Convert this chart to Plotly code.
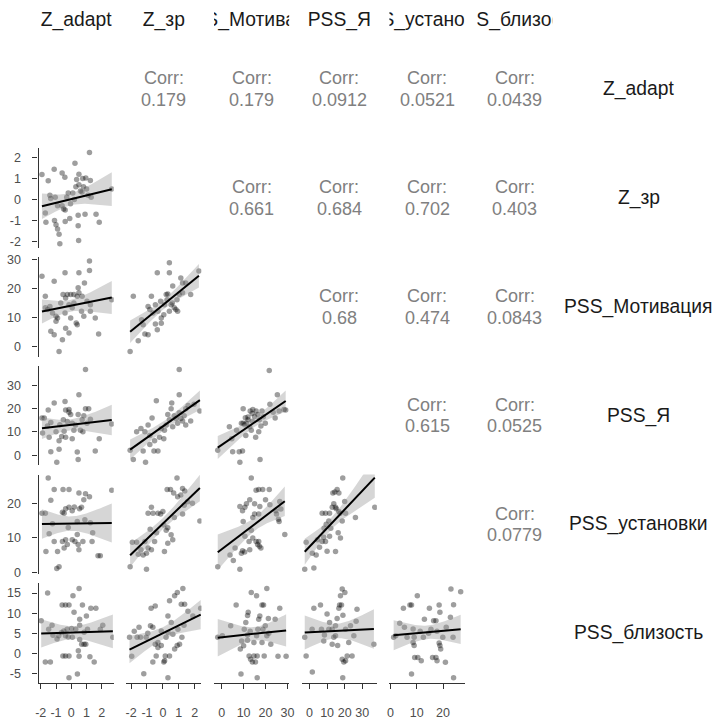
import numpy as np
import plotly.graph_objects as go

W, H = 719, 720

var_names = ["Z_adapt", "Z_зр", "PSS_Мотивация", "PSS_Я", "PSS_установки", "PSS_близость"]
# column headers as they appear (clipped to the panel width) and their horizontal shift in px
col_headers = ["Z_adapt", "Z_зр", "S_Мотива", "PSS_Я", "S_устано", "S_близос"]
col_header_shift = [0, 0, -1, 0, -4, 4]
var_ranges = [[-2.14, 2.78], [-2.3, 2.43], [-3.5, 30.8], [-4.4, 38.3], [-0.4, 28.2], [-7.3, 17.4]]
var_ticks = [[-2, -1, 0, 1, 2], [-2, -1, 0, 1, 2], [0, 10, 20, 30], [0, 10, 20, 30], [0, 10, 20], [-5, 0, 5, 10, 15]]

# upper-triangle correlations
corr_row1 = ["0.179", "0.179", "0.0912", "0.0521", "0.0439"]
corr_row2 = ["0.661", "0.684", "0.702", "0.403"]
corr_row3 = ["0.68", "0.474", "0.0843"]
corr_row4 = ["0.615", "0.0525"]
corr_row5 = ["0.0779"]

# lower-triangle scatter data: (x = column variable, y = row variable)
p21 = [(-1.92, 1.18), (-1.51, 0.89), (-1.12, 1.43), (-0.6, 1.25), (-0.42, 1.05), (0.24, 1.72), (1.19, 2.23),
       (0.5, 1.2), (0.75, 1.0), (0.95, 1.02), (1.25, 0.9), (-1.4, 0.2), (-1.35, 0.05), (-1.7, -0.65),
       (-1.66, -1.08), (-1.0, -1.2), (-1.1, -1.0), (-0.9, -1.4), (-0.8, -1.65), (-0.75, -2.1), (-0.4, -1.05),
       (-0.1, -0.9), (0.45, -0.75), (0.9, -0.7), (0.45, -1.25), (0.48, -1.95), (1.62, -0.7), (1.83, -1.08),
       (2.65, 0.5), (-0.6, -0.3), (-0.5, -0.45), (-0.4, -0.5), (-0.3, 0.1), (-0.2, 0.3), (0.1, 0.3),
       (0.3, 0.6), (0.5, 0.7), (0.6, 0.4), (0.8, 0.6), (1.0, 0.5), (1.1, 0.2), (0.2, 0.0), (-0.9, -0.3),
       (-1.05, 0.1), (0.35, 0.95), (-0.05, -0.2), (0.7, 0.35), (1.3, 0.1)]
p31 = [(-1.92, 24.2), (-1.7, 17.3), (-1.12, 22.5), (-0.41, 25.4), (0.5, 25.4), (1.19, 29.4), (1.19, 26.2),
       (0.86, 21.9), (-1.7, 13.3), (-1.55, 12.7), (-1.4, 13.8), (-1.34, 5.2), (-1.12, 4.0), (-0.58, 2.3),
       (-0.8, -1.7), (-0.9, 9.8), (-1.0, 8.7), (-0.54, 17.9), (-0.37, 16.7), (-0.26, 17.9), (-0.04, 17.9),
       (0.17, 17.9), (0.39, 17.3), (0.5, 18.5), (0.71, 17.3), (0.45, 20.2), (-0.15, 14.4), (0.06, 13.3),
       (-0.41, 11.5), (-0.37, 6.3), (-0.04, 9.8), (0.32, 8.1), (0.39, 7.5), (0.82, 10.4), (1.25, 12.1),
       (1.57, 9.8), (1.79, 4.3), (2.65, 16.1), (0.67, 12.1), (1.25, 14.4), (1.03, 15.6), (0.17, 15.0),
       (-0.69, 15.0), (-1.23, 11.5), (-1.0, 10.4), (-0.15, 4.6)]
p32 = [(-2.06, -1.7), (-1.86, 17.3), (-1.55, 2.0), (-1.24, 7.5), (-1.13, 4.3), (-0.93, 4.0), (-0.82, 12.7),
       (-0.72, 17.3), (-0.93, 13.8), (-1.34, 9.2), (-0.62, 11.5), (-0.47, 7.7), (-0.35, 5.8), (-0.35, 25.4),
       (-0.1, 9.8), (0.06, 10.9), (0.21, 17.9), (0.31, 18.1), (0.41, 28.8), (0.41, 25.4), (0.27, 16.1),
       (0.52, 14.4), (0.72, 13.3), (0.82, 12.7), (0.93, 12.1), (0.62, 20.8), (1.13, 23.6), (1.24, 21.9),
       (1.44, 21.9), (1.75, 17.9), (2.27, 26.0), (0.89, 16.1), (1.03, 17.9), (1.24, 18.5), (0.41, 12.1),
       (0.1, 14.4), (-0.14, 15.6), (-0.31, 12.1), (-0.47, 14.4), (-0.1, 8.0), (0.6, 15.0)]
p41 = [(0.93, 36.7), (-1.92, 15.9), (-1.77, 15.9), (-1.51, 19.3), (-1.34, 14.0), (-1.45, 7.7), (-1.34, 1.5),
       (-0.95, -3.0), (-1.12, 22.3), (-0.8, 6.2), (-0.63, 8.0), (-0.47, 10.2), (-0.41, 23.0), (-0.37, 7.7),
       (-0.37, 19.3), (-0.15, 19.6), (-0.15, 18.4), (-0.04, 17.4), (0.06, 7.0), (0.39, 1.3), (0.45, -1.9),
       (0.5, 25.9), (0.45, 17.4), (0.28, 12.9), (0.6, 10.7), (0.76, 10.0), (0.82, 16.9), (0.93, 19.9),
       (1.14, 19.9), (1.25, 15.4), (1.57, 1.8), (1.83, 7.0), (2.65, 13.4), (-1.88, 9.5), (-1.56, 12.5),
       (-1.0, 10.0), (-0.75, 13.0), (-0.26, 14.4), (0.06, 13.7), (-0.52, 15.2), (0.17, 10.7), (0.71, 15.2),
       (1.03, 13.7), (-0.8, 2.5)]
p42 = [(1.03, 36.7), (-2.06, 2.1), (-1.86, -1.9), (-1.09, -3.0), (-1.24, 1.8), (-1.65, 10.0), (-1.38, 11.4),
       (-1.13, 10.0), (-0.93, 12.9), (-0.68, 15.9), (-0.41, 23.3), (-0.56, 1.8), (-0.31, 1.8), (0.06, 7.0),
       (-0.1, 11.4), (0.21, 12.9), (0.41, 15.2), (0.52, 19.9), (0.72, 16.9), (0.82, 15.7), (1.03, 25.9),
       (1.03, 18.2), (1.13, 15.7), (1.24, 14.6), (1.34, 16.9), (1.44, 19.9), (1.44, 12.9), (1.59, 21.3),
       (1.75, 14.6), (1.96, 21.8), (2.33, 18.9), (0.31, 17.4), (0.56, 22.3), (-0.21, 7.7), (-0.52, 6.2),
       (-0.82, 8.4), (0.1, 10.7), (0.62, 12.2), (0.93, 13.7), (-0.82, 4.6)]
p43 = [(-1.8, 2.1), (3.5, 12.2), (4.6, 7.0), (5.0, 1.5), (8.0, 1.5), (9.5, 1.8), (8.3, -3.0), (9.8, 19.9),
       (9.0, 13.7), (9.8, 13.7), (10.5, 13.0), (11.3, 13.7), (12.8, 12.2), (12.0, 15.2), (13.0, 18.9),
       (14.2, 19.6), (13.9, 17.8), (15.0, 16.6), (15.7, 18.9), (16.5, 17.4), (17.2, 15.2), (16.9, 10.0),
       (15.5, 7.7), (17.5, -1.9), (18.4, 18.9), (17.9, 12.5), (19.9, 13.7), (21.7, 36.3), (22.0, 21.8),
       (23.5, 18.4), (24.4, 15.9), (25.4, 25.9), (26.2, 18.9), (28.4, 19.6), (29.2, 19.3), (11.0, 8.4),
       (13.5, 10.7), (12.0, 16.3), (6.8, 10.7), (14.0, 14.5), (19.0, 16.5), (10.8, 16.0)]
p51 = [(-1.92, 17.1), (-1.7, 17.1), (-1.51, 27.2), (-1.34, 20.8), (-1.45, 11.2), (-1.12, 9.0), (-1.66, 6.1),
       (-0.9, 6.1), (-0.95, 1.2), (-0.8, 1.7), (-1.12, 23.9), (-0.54, 23.9), (-0.15, 23.9), (-0.58, 17.4),
       (-0.47, 17.1), (-0.37, 18.4), (-0.58, 9.0), (-0.37, 9.5), (-0.47, 7.1), (-0.26, 8.1), (-0.15, 18.8),
       (0.06, 17.8), (0.06, 9.5), (0.24, 9.0), (0.39, 11.0), (0.45, 8.1), (0.5, 6.6), (0.5, 22.9),
       (0.54, 18.4), (0.67, 18.8), (0.82, 21.0), (0.89, 15.2), (0.39, 14.7), (0.76, 9.0), (0.93, 22.7),
       (1.19, 21.8), (1.25, 14.4), (1.4, 11.5), (1.36, 9.0), (1.75, 4.9), (1.9, 4.9), (2.65, 23.7),
       (-1.23, 14.1), (-0.2, 13.0), (0.2, 18.9)]
p52 = [(-2.06, 1.7), (-1.92, 8.8), (-1.65, 8.8), (-1.03, 1.0), (-1.55, 5.3), (-1.38, 6.6), (-1.24, 5.1),
       (-1.03, 5.6), (-0.93, 7.1), (-0.72, 6.6), (-0.52, 9.0), (-1.13, 9.0), (-0.93, 17.1), (-0.72, 18.8),
       (-0.62, 17.1), (-0.31, 17.1), (-0.14, 16.9), (0.06, 13.7), (0.21, 12.2), (0.31, 12.9), (0.52, 10.9),
       (0.62, 9.5), (0.27, 23.9), (0.48, 23.9), (0.68, 22.9), (0.89, 27.2), (0.93, 21.8), (1.13, 22.3),
       (1.24, 24.2), (1.38, 23.5), (1.24, 16.9), (1.34, 19.4), (1.55, 20.4), (1.86, 20.0), (2.33, 14.9),
       (0.72, 15.9), (0.31, 8.5), (0.1, 6.1), (-0.4, 11.5), (-0.8, 12.5), (0.0, 17.6)]
p53 = [(-1.8, 1.7), (3.8, 5.1), (6.1, 7.1), (8.3, 1.0), (9.0, 5.6), (9.5, 6.3), (10.6, 10.5), (9.8, 14.7),
       (12.8, 6.6), (13.5, 12.2), (14.2, 10.0), (15.7, 9.0), (16.4, 8.1), (17.2, 7.6), (17.9, 7.1), (16.9, 9.0),
       (8.3, 19.0), (9.5, 17.8), (10.6, 18.8), (11.3, 19.8), (12.8, 21.0), (13.5, 27.2), (15.0, 19.8),
       (15.7, 23.7), (16.9, 23.9), (18.7, 23.9), (21.7, 23.9), (17.4, 19.0), (16.9, 16.9), (15.0, 16.9),
       (14.2, 15.9), (24.7, 17.8), (25.0, 16.9), (25.9, 15.4), (26.2, 14.7), (28.8, 11.0), (12.5, 9.0),
       (10.5, 6.0), (5.3, 3.5), (20.0, 21.0), (22.0, 19.5), (27.0, 18.3), (26.5, 20.5)]
p54 = [(-2.7, 1.0), (-1.9, 8.8), (2.5, 1.4), (1.6, 5.6), (3.8, 5.1), (5.7, 7.3), (7.2, 9.0), (8.1, 10.2),
       (9.1, 9.0), (10.0, 6.2), (11.4, 10.5), (9.5, 13.9), (11.0, 14.9), (7.2, 17.1), (9.1, 17.1), (11.4, 17.1),
       (12.9, 18.8), (14.8, 18.8), (13.8, 19.8), (15.2, 18.4), (16.7, 17.6), (13.3, 22.9), (14.4, 23.2),
       (15.7, 23.9), (16.7, 22.9), (18.9, 27.2), (17.4, 17.1), (18.6, 14.9), (20.5, 17.1), (16.3, 11.5),
       (17.6, 10.0), (14.8, 6.1), (26.1, 15.9), (37.1, 18.8), (12.1, 12.8), (8.3, 12.8), (4.5, 9.5),
       (20.0, 20.5)]
p61 = [(-1.97, 8.1), (-1.55, 15.0), (-1.7, -2.1), (-1.37, -2.1), (-1.48, 6.0), (-1.26, 7.0), (-1.2, 4.5),
       (-0.93, 3.6), (-0.82, 4.4), (-0.64, 5.2), (-0.6, 12.0), (-0.49, 5.6), (-0.38, 12.0), (-0.15, 12.0),
       (-0.55, -0.6), (-0.38, -0.6), (-0.15, -0.6), (-0.38, 4.4), (-0.27, 6.0), (-0.2, 4.1), (-0.15, -6.0),
       (0.11, 14.3), (0.18, 10.2), (0.07, 4.0), (0.51, 16.1), (0.55, 8.5), (0.55, 7.0), (0.4, -5.1),
       (0.46, 0.7), (0.51, -0.7), (0.55, 3.5), (0.73, 12.0), (0.68, 2.3), (0.84, 2.3), (0.95, 2.3),
       (0.99, 9.3), (0.84, 5.3), (1.06, 6.0), (1.22, -0.8), (1.5, -2.1), (1.61, 11.2), (1.28, 11.2),
       (1.9, 6.0), (2.72, 4.0), (2.06, 7.0), (0.29, 6.0), (0.02, 6.2)]
p62 = [(-2.1, 4.0), (-1.96, -0.7), (-1.62, 4.0), (-1.41, 4.0), (-1.2, -5.0), (-1.05, 4.0), (-0.95, 5.0),
       (-0.78, 6.9), (-0.63, 6.5), (-0.74, 11.2), (-0.48, 11.8), (-0.63, -2.1), (-0.42, -0.6), (-0.31, 2.7),
       (-0.1, 5.6), (0.06, -2.1), (0.11, -1.8), (0.15, -0.6), (0.42, -0.6), (0.32, -6.0), (0.32, 5.2),
       (0.32, 9.3), (0.42, 13.1), (0.53, 7.7), (0.74, 14.3), (0.91, 15.1), (1.26, 16.1), (1.16, 12.2),
       (1.37, 12.2), (1.05, 2.3), (0.95, 6.0), (1.33, 7.0), (1.58, 10.5), (1.89, 9.3), (2.38, 11.2),
       (-0.48, 2.3), (-0.31, 1.5), (0.63, 4.8), (0.74, 1.1), (-0.1, 2.0), (0.2, 4.0), (1.2, 4.0),
       (0.9, 2.0), (-1.5, 6.5), (-1.8, 5.5)]
p63 = [(-1.8, 4.0), (0.3, 4.4), (4.1, 6.9), (6.6, 12.0), (8.8, -5.1), (8.5, 1.1), (9.1, 3.1), (10.0, 1.9),
       (10.3, 6.0), (11.0, 7.7), (11.8, 4.6), (12.1, 10.2), (11.8, 9.4), (12.5, -0.6), (13.2, -1.4),
       (14.0, -2.1), (14.7, -0.6), (15.4, -2.1), (16.2, -0.6), (13.5, 15.1), (15.9, 14.3), (16.5, 6.0),
       (16.9, 8.5), (17.4, 9.3), (18.4, 12.0), (19.1, 12.0), (18.8, 6.0), (18.4, 2.7), (19.4, -0.6),
       (20.6, 16.1), (19.9, 6.9), (21.3, 8.7), (22.4, 2.3), (20.6, 4.4), (16.2, -6.0), (24.4, 8.5),
       (26.5, 11.2), (25.7, -0.7), (29.4, -0.7), (14.7, 2.7), (11.8, 3.3), (15.9, 4.4), (13.0, 5.5),
       (21.5, 5.0)]
p64 = [(-2.7, 4.0), (-1.9, -0.6), (1.6, -4.6), (1.5, 6.0), (2.5, 11.2), (6.25, 12.0), (8.5, 4.6), (11.0, 6.0),
       (11.4, 7.7), (12.9, 2.3), (13.8, 4.0), (14.8, 6.9), (15.7, 8.7), (16.7, 11.2), (17.1, 12.0),
       (18.2, 12.0), (17.6, 14.3), (18.6, 16.0), (20.1, 15.1), (20.5, 6.0), (18.6, -1.4), (19.5, -2.1),
       (20.5, -1.8), (21.4, -0.6), (24.2, -0.6), (26.5, 8.0), (27.0, 11.0), (18.9, -6.0), (22.3, 2.7),
       (23.3, 6.9), (25.2, 4.4), (14.8, 4.4), (12.9, 6.0), (36.6, 2.3), (6.8, 6.0), (8.1, 3.1), (16.0, 2.0),
       (19.0, 9.5), (10.0, 9.8)]
p65 = [(1.2, 4.0), (2.0, 4.4), (4.9, 11.2), (7.4, 12.0), (8.0, 12.0), (10.2, 14.3), (5.3, 6.5), (8.6, 6.1),
       (9.0, 4.0), (8.6, 2.7), (9.0, 2.0), (9.2, -1.0), (10.4, -1.0), (11.7, -1.8), (8.0, -5.1), (12.9, 8.5),
       (14.8, 11.2), (15.4, 6.0), (16.4, 8.1), (17.3, 8.1), (18.5, 12.0), (18.8, 10.2), (18.5, 2.6),
       (18.8, 2.0), (19.1, 1.1), (16.0, -1.0), (17.3, -1.0), (17.7, -1.8), (20.9, -2.2), (24.0, 12.1),
       (23.0, 16.0), (26.7, 15.3), (23.8, 4.0), (24.0, -6.0), (22.8, 9.0), (12.5, 4.0), (11.3, 5.5),
       (14.5, 5.0), (6.3, 4.0), (21.2, 6.5), (19.9, 4.0), (17.7, 5.5), (3.5, 7.5)]

panels = {(1, 0): p21, (2, 0): p31, (2, 1): p32, (3, 0): p41, (3, 1): p42, (3, 2): p43,
          (4, 0): p51, (4, 1): p52, (4, 2): p53, (4, 3): p54,
          (5, 0): p61, (5, 1): p62, (5, 2): p63, (5, 3): p64, (5, 4): p65}
corr_rows = [corr_row1, corr_row2, corr_row3, corr_row4, corr_row5]

# ---- layout geometry (pixels) ----
COL0, COLSTEP, COLW = 36.0, 88.7, 76.0
ROW0, ROWSTEP, ROWH = 36.0, 110.3, 101.0
STRIP_TOP, STRIP_BOT = 4.0, 31.0
RIGHT_LABEL_X = 643.0
FONT = "Liberation Sans, Arial, sans-serif"
AXIS_COL = "#333333"
TICK_FONT = dict(family=FONT, size=12.5, color="#4D4D4D")
STRIP_FONT = dict(family=FONT, size=19.3, color="#1A1A1A")
CORR_FONT = dict(family=FONT, size=18, color="#808080")


def xdom(j):
    x0 = COL0 + COLSTEP * j
    return [x0 / W, (x0 + COLW) / W]


def ydom(i):
    y0 = ROW0 + ROWSTEP * i
    return [1 - (y0 + ROWH) / H, 1 - y0 / H]


fig = go.Figure()
layout = {}
k = 0
T95 = 2.01

for (i, j), pts in panels.items():
    k += 1
    xa = "x" if k == 1 else f"x{k}"
    ya = "y" if k == 1 else f"y{k}"
    x = np.array([p[0] for p in pts], dtype=float)
    y = np.array([p[1] for p in pts], dtype=float)
    n = len(x)
    mx, my = x.mean(), y.mean()
    sxx = ((x - mx) ** 2).sum()
    b = ((x - mx) * (y - my)).sum() / sxx
    a = my - b * mx
    s = np.sqrt(((y - (a + b * x)) ** 2).sum() / (n - 2))
    xs = np.linspace(x.min(), x.max(), 80)
    yh = a + b * xs
    se = s * np.sqrt(1.0 / n + (xs - mx) ** 2 / sxx)
    lo, hi = yh - T95 * se, yh + T95 * se

    fig.add_trace(go.Scatter(x=x, y=y, mode="markers", xaxis=xa, yaxis=ya,
                             marker=dict(size=5.5, color="rgba(0,0,0,0.38)", line=dict(width=0)),
                             hoverinfo="skip"))
    fig.add_trace(go.Scatter(x=np.concatenate([xs, xs[::-1]]), y=np.concatenate([hi, lo[::-1]]),
                             mode="lines", fill="toself", fillcolor="rgba(153,153,153,0.4)",
                             line=dict(width=0), xaxis=xa, yaxis=ya, hoverinfo="skip"))
    fig.add_trace(go.Scatter(x=xs, y=yh, mode="lines", line=dict(color="black", width=2),
                             xaxis=xa, yaxis=ya, hoverinfo="skip"))

    xax = dict(domain=xdom(j), range=var_ranges[j], anchor=ya, showgrid=False, zeroline=False,
               fixedrange=True)
    yax = dict(domain=ydom(i), range=var_ranges[i], anchor=xa, showgrid=False, zeroline=False,
               fixedrange=True)
    if i == 5:
        xax.update(showline=True, linecolor=AXIS_COL, linewidth=1.2, ticks="outside", ticklen=5,
                   tickwidth=1.2, tickcolor=AXIS_COL, tickvals=var_ticks[j],
                   ticktext=[str(v) for v in var_ticks[j]], tickfont=TICK_FONT, ticklabelstandoff=13)
    else:
        xax.update(visible=False)
    if j == 0:
        yax.update(showline=True, linecolor=AXIS_COL, linewidth=1.2, ticks="outside", ticklen=5,
                   tickwidth=1.2, tickcolor=AXIS_COL, tickvals=var_ticks[i],
                   ticktext=[str(v) for v in var_ticks[i]], tickfont=TICK_FONT, ticklabelstandoff=9)
    else:
        yax.update(visible=False)
    layout["xaxis" if k == 1 else f"xaxis{k}"] = xax
    layout["yaxis" if k == 1 else f"yaxis{k}"] = yax

# top strip labels, clipped to the column width
for j, name in enumerate(col_headers):
    k += 1
    xa, ya = f"x{k}", f"y{k}"
    fig.add_trace(go.Scatter(x=[0.5 + col_header_shift[j] / COLW], y=[0.5], mode="text", text=[name],
                             textposition="middle center", textfont=STRIP_FONT, cliponaxis=True,
                             xaxis=xa, yaxis=ya, hoverinfo="skip"))
    layout[f"xaxis{k}"] = dict(domain=xdom(j), range=[0, 1], visible=False, fixedrange=True, anchor=ya)
    layout[f"yaxis{k}"] = dict(domain=[1 - STRIP_BOT / H, 1 - STRIP_TOP / H], range=[0, 1],
                               visible=False, fixedrange=True, anchor=xa)

annotations = []
for i, vals in enumerate(corr_rows):
    for m, v in enumerate(vals):
        j = i + 1 + m
        cx = (COL0 + COLSTEP * j + COLW / 2) / W
        cy = ROW0 + ROWSTEP * i + ROWH / 2
        annotations.append(dict(x=cx, y=1 - (cy - 11) / H, xref="paper", yref="paper", text="Corr:",
                                showarrow=False, font=CORR_FONT, xanchor="center", yanchor="middle"))
        annotations.append(dict(x=cx, y=1 - (cy + 11) / H, xref="paper", yref="paper", text=v,
                                showarrow=False, font=CORR_FONT, xanchor="center", yanchor="middle"))

for i, name in enumerate(var_names):
    cy = ROW0 + ROWSTEP * i + ROWH / 2
    annotations.append(dict(x=RIGHT_LABEL_X / W, y=1 - cy / H, xref="paper", yref="paper", text=name,
                            showarrow=False, font=STRIP_FONT, xanchor="center", yanchor="middle"))

fig.update_layout(width=W, height=H, margin=dict(l=0, r=0, t=0, b=0), showlegend=False,
                  paper_bgcolor="white", plot_bgcolor="white", font=dict(family=FONT),
                  annotations=annotations, **layout)

fig.write_html("out.html")
